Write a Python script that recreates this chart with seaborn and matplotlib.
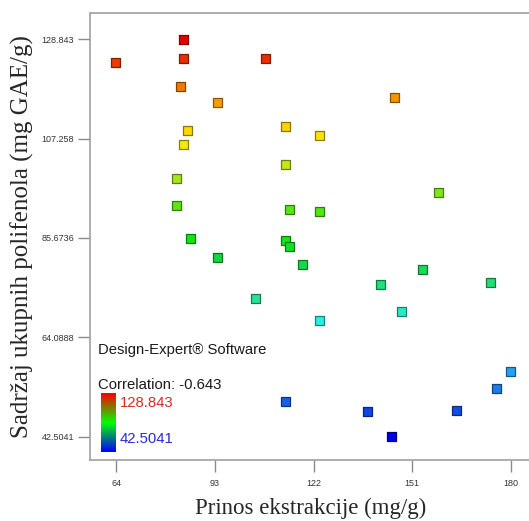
import numpy as np
import pandas as pd
import matplotlib
matplotlib.use("Agg")
import matplotlib.pyplot as plt
from matplotlib.colors import LinearSegmentedColormap, Normalize
import seaborn as sns

# ---- data ----
prinos = [83.8, 83.8, 107.9, 63.9, 82.9, 93.8, 145.9, 84.9, 83.8, 113.8,
          123.9, 113.8, 81.8, 158.7, 81.8, 114.8, 123.9, 85.9, 113.8, 114.8,
          93.8, 118.9, 153.9, 141.8, 174.1, 105.0, 147.8, 123.8, 180.0, 175.9,
          113.8, 137.9, 163.9, 144.9]
polifenoli = [128.843, 124.6, 124.7, 123.7, 118.5, 115.1, 116.2, 109.0, 106.0, 109.9,
              108.0, 101.6, 98.5, 95.6, 92.7, 91.9, 91.5, 85.6, 85.2, 83.9,
              81.5, 80.0, 78.8, 75.5, 75.9, 72.6, 69.7, 67.8, 56.7, 53.1,
              50.1, 47.9, 48.3, 42.5041]
x_ticks = [64, 93, 122, 151, 180]
y_ticks = [42.5041, 64.0888, 85.6736, 107.258, 128.843]
y_tick_labels = ["42.5041", "64.0888", "85.6736", "107.258", "128.843"]
y_min, y_max = 42.5041, 128.843
correlation_text = "Correlation: -0.643"

df = pd.DataFrame({"prinos": prinos, "polifenoli": polifenoli})

stops = [(0.0, (0, 0, 230)), (0.07, (20, 80, 230)), (0.165, (40, 160, 240)),
         (0.29, (40, 240, 230)), (0.35, (40, 225, 150)), (0.45, (20, 215, 60)),
         (0.5, (20, 230, 20)), (0.6, (110, 230, 20)), (0.66, (175, 230, 30)),
         (0.75, (255, 235, 0)), (0.86, (245, 145, 0)), (0.94, (235, 60, 0)),
         (1.0, (225, 0, 0))]
cmap = LinearSegmentedColormap.from_list(
    "de", [(p, tuple(c / 255 for c in rgb)) for p, rgb in stops])
norm = Normalize(y_min, y_max)
face = cmap(norm(np.array(polifenoli)))
edge = face.copy()
edge[:, :3] *= 0.55

sns.set_style("white")
fig = plt.figure(figsize=(5.29, 5.21), dpi=100)
W, H = 529, 521
ax = fig.add_axes([90 / W, (H - 460) / H, (537 - 90) / W, (460 - 13.5) / H])

sns.scatterplot(data=df, x="prinos", y="polifenoli", hue="polifenoli",
                palette=cmap, hue_norm=(y_min, y_max), marker="s", s=42,
                edgecolor=edge, linewidth=0.9, legend=False, ax=ax, zorder=3)

ax.set_xlim(56.3, 187.7)
ax.set_ylim(37.47, 134.4)
ax.set_xticks(x_ticks)
ax.set_xticklabels([str(t) for t in x_ticks])
ax.set_yticks(y_ticks)
ax.set_yticklabels(y_tick_labels)
for sp in ax.spines.values():
    sp.set_color("#a0a0a0")
    sp.set_linewidth(1.2)
ax.tick_params(axis="both", direction="out", length=8.6, width=1.0, color="#8a8a8a",
               labelsize=6.5, labelcolor="#333333", bottom=True, left=True)
ax.tick_params(axis="y", pad=3)
ax.tick_params(axis="x", pad=5)
for lab in ax.get_xticklabels() + ax.get_yticklabels():
    lab.set_family("Liberation Sans")

ax.set_xlabel("")
ax.set_ylabel("")
fig.text(311 / W, 1 - 508 / H, "Prinos ekstrakcije (mg/g)", family="Liberation Serif",
         fontsize=16.5, ha="center", va="center")
fig.text(22 / W, 1 - 237 / H, "Sadržaj ukupnih polifenola (mg GAE/g)", family="Liberation Serif",
         fontsize=18, ha="center", va="center", rotation=90)

fig.text(98 / W, 1 - 349.6 / H, "Design-Expert® Software", family="Liberation Sans",
         fontsize=10.7, ha="left", va="center", color="#1a1a1a")
fig.text(98 / W, 1 - 384.8 / H, correlation_text, family="Liberation Sans",
         fontsize=10.7, ha="left", va="center", color="#1a1a1a")
fig.text(120 / W, 1 - 402.6 / H, y_tick_labels[-1], family="Liberation Sans",
         fontsize=10.7, ha="left", va="center", color="#d42a2a")
fig.text(120 / W, 1 - 438.9 / H, y_tick_labels[0], family="Liberation Sans",
         fontsize=10.7, ha="left", va="center", color="#2a2ad4")

cax = fig.add_axes([101.2 / W, (H - 452) / H, 14.2 / W, 59 / H])
leg_cmap = LinearSegmentedColormap.from_list("rgb", ["#0000ff", "#00ff00", "#ff0000"])
grad = np.linspace(1, 0, 100).reshape(-1, 1)
cax.imshow(grad, aspect="auto", cmap=leg_cmap, vmin=0, vmax=1)
cax.set_axis_off()

fig.savefig("out.png", dpi=100)
